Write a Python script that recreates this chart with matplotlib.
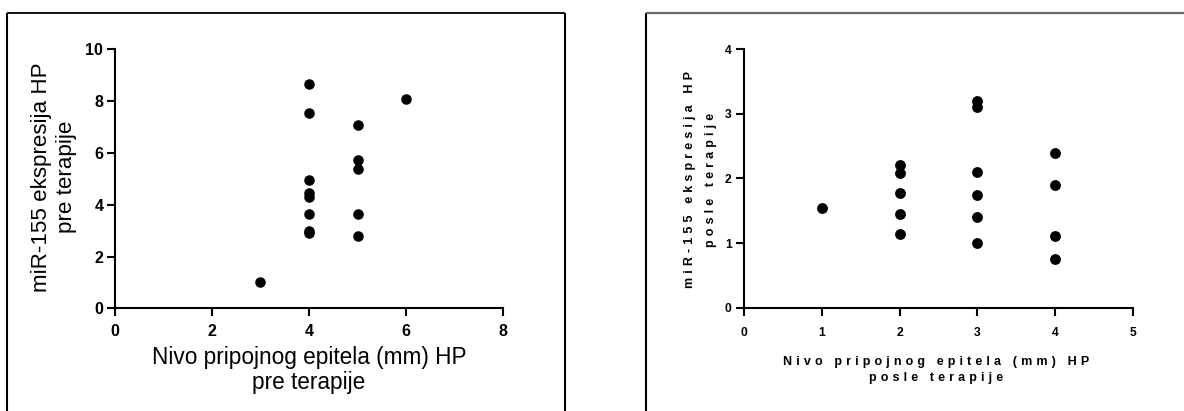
import matplotlib
matplotlib.use("Agg")
import matplotlib.pyplot as plt
from matplotlib.lines import Line2D

plt.rcParams['font.family'] = ['Liberation Sans', 'DejaVu Sans']

# Before therapy: attachment level (mm) vs miR-155 expression
pre_level = [3, 4, 4, 4, 4, 4, 4, 4, 4, 5, 5, 5, 5, 5, 6]
pre_expr = [1.0, 8.67, 7.53, 4.97, 4.44, 4.29, 3.63, 3.0, 2.92,
            7.08, 5.73, 5.38, 3.63, 2.81, 8.10]
pre_xticks = [0, 2, 4, 6, 8]
pre_yticks = [0, 2, 4, 6, 8, 10]
pre_xlabel = ["Nivo pripojnog epitela (mm) HP", "pre terapije"]
pre_ylabel = ["miR-155 ekspresija HP", "pre terapije"]

# After therapy
post_level = [1, 2, 2, 2, 2, 2, 3, 3, 3, 3, 3, 3, 4, 4, 4, 4]
post_expr = [1.55, 2.21, 2.09, 1.77, 1.445, 1.135,
             3.20, 3.10, 2.095, 1.75, 1.41, 1.0,
             2.395, 1.894, 1.115, 0.748]
post_xticks = [0, 1, 2, 3, 4, 5]
post_yticks = [0, 1, 2, 3, 4]
post_xlabel = ["Nivo pripojnog epitela (mm) HP", "posle terapije"]
post_ylabel = ["miR-155 ekspresija HP", "posle terapije"]

W, H = 1184, 411
fig = plt.figure(figsize=(W / 100, H / 100), dpi=100)


def fx(x):
    return x / W


def fy(y):
    return 1 - y / H


SP = "\u2004"  # three-per-em space used for letter tracking


def tracked(s):
    return (SP + " " + SP).join(SP.join(w) for w in s.split(" "))


def style_axes(ax, tick_size, xpad, ypad):
    for side in ("top", "right"):
        ax.spines[side].set_visible(False)
    for side in ("left", "bottom"):
        ax.spines[side].set_linewidth(1.5)
        ax.spines[side].set_color("black")
    ax.tick_params(axis="both", direction="out", length=5.5, width=1.5,
                   labelsize=tick_size, colors="black")
    ax.tick_params(axis="x", pad=xpad)
    ax.tick_params(axis="y", pad=ypad)
    for lab in ax.get_xticklabels() + ax.get_yticklabels():
        lab.set_fontweight("bold")


# Left panel
ax1 = fig.add_axes([fx(114.7), fy(308.3), fx(503.3) - fx(114.7),
                    fy(49.3) - fy(308.3)])
ax1.plot(pre_level, pre_expr, "o", ms=7.6, color="black", mec="none",
         clip_on=False)
ax1.set_xlim(0, 8)
ax1.set_ylim(0, 10)
ax1.set_xticks(pre_xticks)
ax1.set_yticks(pre_yticks)
style_axes(ax1, 11.5, 6.0, 2.7)

# two-line labels are anchored at the baseline of their second line
fig.text(fx(309), fy(389), "\n".join(pre_xlabel), ha="center",
         va="baseline", multialignment="center", fontsize=16.3,
         linespacing=1.12)
fig.text(fx(68), fy(177), "\n".join(pre_ylabel), ha="center",
         va="baseline", multialignment="center", fontsize=16.1,
         linespacing=1.24, rotation=90, rotation_mode="anchor")

# Right panel
ax2 = fig.add_axes([fx(744.3), fy(307.7), fx(1132.7) - fx(744.3),
                    fy(49.3) - fy(307.7)])
ax2.plot(post_level, post_expr, "o", ms=7.8, color="black", mec="none",
         clip_on=False)
ax2.set_xlim(0, 5)
ax2.set_ylim(0, 4)
ax2.set_xticks(post_xticks)
ax2.set_yticks(post_yticks)
style_axes(ax2, 8.7, 8.5, 3.6)

fig.text(fx(936), fy(381), "\n".join(tracked(s) for s in post_xlabel),
         ha="center", va="baseline", multialignment="center", fontsize=9,
         fontweight="bold", linespacing=1.41)
fig.text(fx(705), fy(180), "\n".join(tracked(s) for s in post_ylabel),
         ha="center", va="baseline", multialignment="center", fontsize=9,
         fontweight="bold", linespacing=1.95, rotation=90,
         rotation_mode="anchor")

# Panel frames
frame = dict(transform=fig.transFigure, solid_capstyle="butt")
fig.add_artist(Line2D([fx(7), fx(7)], [0, fy(13)], color="black", lw=1.5, **frame))
fig.add_artist(Line2D([fx(7), fx(565)], [fy(13), fy(13)], color="black", lw=1.3, **frame))
fig.add_artist(Line2D([fx(565), fx(565)], [0, fy(13)], color="black", lw=1.5, **frame))
fig.add_artist(Line2D([fx(646), fx(646)], [0, fy(13)], color="black", lw=1.5, **frame))
fig.add_artist(Line2D([fx(646), 1], [fy(13), fy(13)], color="#686868", lw=1.6, **frame))

fig.savefig("out.png", dpi=100, facecolor="white")
